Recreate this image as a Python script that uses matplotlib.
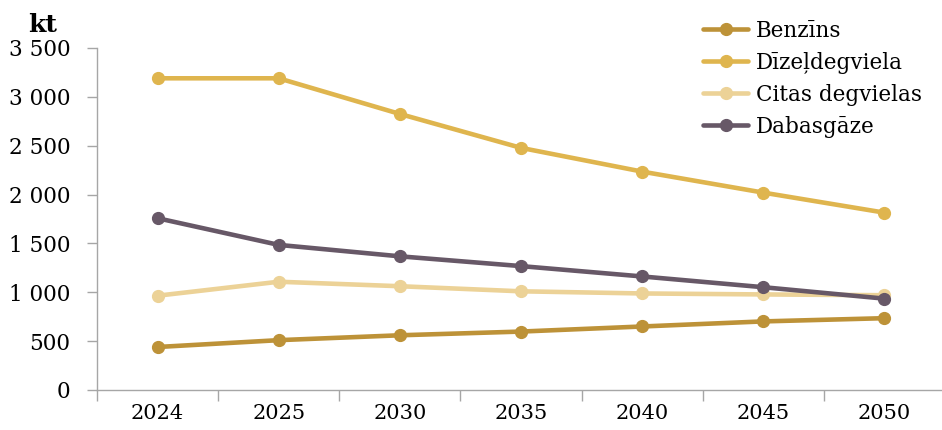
import matplotlib
matplotlib.use("Agg")
import matplotlib.pyplot as plt
import numpy as np
from matplotlib.ticker import FuncFormatter, FixedLocator

years = ["2024", "2025", "2030", "2035", "2040", "2045", "2050"]
benzins = [440, 510, 560, 598, 650, 702, 735]
dizeldegviela = [3190, 3190, 2825, 2478, 2235, 2020, 1815]
citas_degvielas = [965, 1108, 1062, 1010, 988, 978, 970]
dabasgaze = [1758, 1485, 1368, 1268, 1162, 1052, 935]

series = [
    ("Benzīns", benzins, "#BD9238"),
    ("Dīzeļdegviela", dizeldegviela, "#DFB54E"),
    ("Citas degvielas", citas_degvielas, "#ECD297"),
    ("Dabasgāze", dabasgaze, "#675867"),
]

plt.rcParams["font.family"] = ["DejaVu Serif"]

fig = plt.figure(figsize=(9.42, 4.30), dpi=100)
ax = fig.add_axes([97 / 942, 40 / 430, 848 / 942, 342 / 430])

x = np.arange(len(years))
for name, vals, color in series:
    ax.plot(x, vals, color=color, lw=3.3, marker="o", markersize=8.5,
            label=name, solid_capstyle="round", clip_on=False, zorder=3)

ax.set_xlim(-0.5, len(years) - 0.5)
ax.set_ylim(0, 3500)
ax.set_yticks(np.arange(0, 3501, 500))
ax.yaxis.set_major_formatter(FuncFormatter(lambda v, p: f"{int(v):,}".replace(",", " ")))

ax.set_xticks(x)
ax.set_xticklabels(years)
ax.xaxis.set_minor_locator(FixedLocator(np.arange(-0.5, len(years), 1.0)))
ax.tick_params(axis="x", which="major", length=0, pad=10, labelsize=15)
ax.tick_params(axis="x", which="minor", length=8, color="#A6A6A6", width=1)
ax.tick_params(axis="y", length=7, color="#A6A6A6", width=1, labelsize=15.5, pad=12)

for s in ("top", "right"):
    ax.spines[s].set_visible(False)
for s in ("left", "bottom"):
    ax.spines[s].set_color("#A6A6A6")
    ax.spines[s].set_linewidth(1)

fig.text(28 / 942, 1 - 32 / 430, "kt", fontsize=18, fontweight="bold",
         ha="left", va="baseline")

leg = ax.legend(loc="upper left", bbox_to_anchor=(703 / 942, 1 - 20 / 430),
                bbox_transform=fig.transFigure, frameon=False, fontsize=15.5,
                handlelength=2.1, handletextpad=0.35, labelspacing=0.46,
                borderpad=0, borderaxespad=0)

fig.savefig("out.png", dpi=100)
